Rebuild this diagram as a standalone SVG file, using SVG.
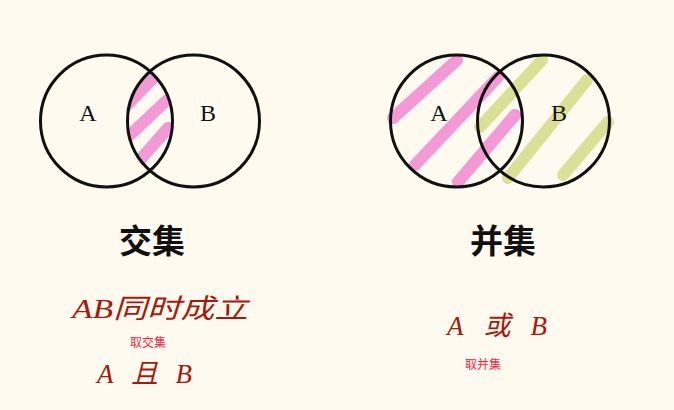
<svg xmlns="http://www.w3.org/2000/svg" width="674" height="410" viewBox="0 0 674 410">
<style>
.circ{fill:none;stroke:#111;stroke-width:3}
.pink{stroke:#f39ad6;stroke-width:12;stroke-linecap:round;fill:none}
.green{stroke:#dcdf96;stroke-width:12;stroke-linecap:round;fill:none}
.lbl{font-family:"Liberation Serif","Times New Roman",serif;font-size:24px;fill:#111;text-anchor:middle}
.title{font-family:"Noto Sans CJK SC","Noto Sans CJK JP",sans-serif;font-weight:bold;font-size:33px;fill:#111;text-anchor:middle}
.hand{font-family:"Liberation Serif","Noto Sans CJK SC",serif;font-style:italic;font-size:27px;fill:#a51a0c}
.note{font-family:"Noto Sans CJK SC","Noto Sans CJK JP",sans-serif;font-size:12px;fill:#ff1f3d}
</style>
<defs>
<clipPath id="lens">
<circle cx="106.5" cy="121" r="67"/>
</clipPath>
<clipPath id="lensB">
<circle cx="193.5" cy="121" r="68"/>
</clipPath>
</defs>
<rect width="674" height="410" fill="#fffaf0"/>
<g id="intersection">
<g clip-path="url(#lens)"><g clip-path="url(#lensB)">
<line class="pink" x1="126" y1="106" x2="157" y2="74"/>
<line class="pink" x1="130" y1="135" x2="167" y2="100"/>
<line class="pink" x1="140" y1="160" x2="168" y2="128"/>
</g></g>
<circle class="circ" cx="106.5" cy="121" r="66"/>
<circle class="circ" cx="193.5" cy="121" r="66"/>
<text class="lbl" x="88" y="121">A</text>
<text class="lbl" x="208" y="121">B</text>
<text class="title" x="152" y="253">交集</text>
</g>
<g id="union">
<line class="pink" x1="393" y1="118" x2="457" y2="60"/>
<line class="pink" x1="415" y1="165" x2="498" y2="77"/>
<line class="pink" x1="458" y1="182" x2="515" y2="115"/>
<line class="green" x1="480" y1="127" x2="542" y2="60"/>
<line class="green" x1="508" y1="178" x2="587" y2="80"/>
<line class="green" x1="563" y1="175" x2="608" y2="122"/>
<circle class="circ" cx="456.5" cy="121" r="66"/>
<circle class="circ" cx="543.5" cy="121" r="66"/>
<text class="lbl" x="439" y="121">A</text>
<text class="lbl" x="559" y="121">B</text>
<text class="title" x="503" y="253">并集</text>
</g>
<g id="notes-left">
<text class="hand" x="72" y="318" textLength="176" lengthAdjust="spacingAndGlyphs">AB同时成立</text>
<text class="note" x="130" y="347">取交集</text>
<text class="hand" x="97" y="383" textLength="95" lengthAdjust="spacing">A且B</text>
</g>
<g id="notes-right">
<text class="hand" x="447" y="335" textLength="100" lengthAdjust="spacing">A或B</text>
<text class="note" x="465" y="369">取并集</text>
</g>
<g id="connectors"/>
</svg>
